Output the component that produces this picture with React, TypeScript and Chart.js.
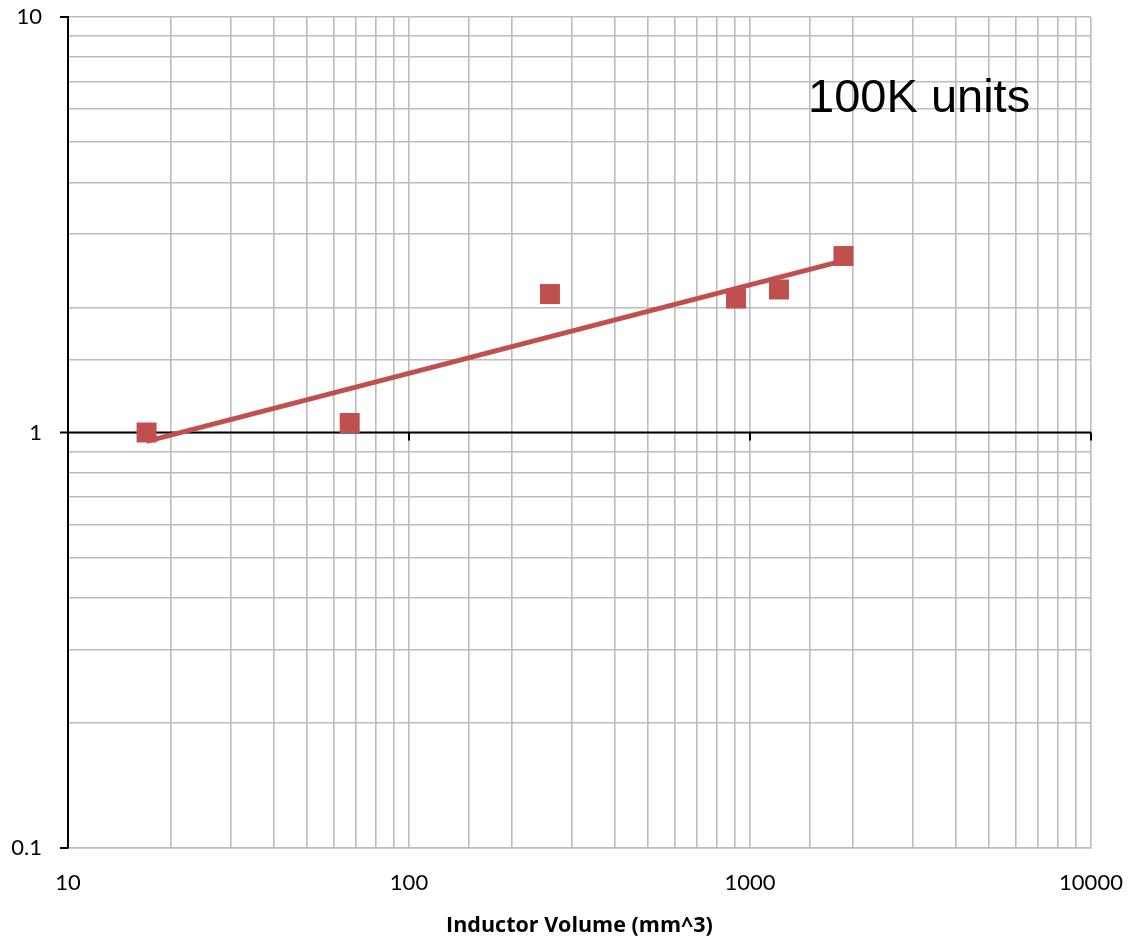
import { useEffect, useRef } from "react";
import { Chart, registerables } from "chart.js";

Chart.register(...registerables);

// Inductor volume (mm^3) and the matching relative value at 100K units
const volumes = [17, 67, 259, 910, 1216, 1880];
const relativeValues = [1.0, 1.054, 2.154, 2.101, 2.209, 2.659];

// Labelled decades on each axis
const xTickLabels = [10, 100, 1000, 10000];
const yTickLabels = [0.1, 1, 10];

const annotationText = "100K units";
const annotationAt = { x: 1480, y: 5.9 };
const xAxisTitle = "Inductor Volume (mm^3)";

const SERIES_COLOR = "#C0504D";
const GRID_COLOR = "#BCBCBC";
const LABEL_FONT = "Lato, 'Liberation Sans', sans-serif";

// Least-squares power fit y = a * x^b, done in log-log space
function powerFit(xs: number[], ys: number[]) {
  const lx = xs.map((v) => Math.log10(v));
  const ly = ys.map((v) => Math.log10(v));
  const n = lx.length;
  const mx = lx.reduce((s, v) => s + v, 0) / n;
  const my = ly.reduce((s, v) => s + v, 0) / n;
  let sxy = 0;
  let sxx = 0;
  for (let i = 0; i < n; i++) {
    sxy += (lx[i] - mx) * (ly[i] - my);
    sxx += (lx[i] - mx) * (lx[i] - mx);
  }
  const b = sxy / sxx;
  const logA = my - b * mx;
  return (x: number) => Math.pow(10, logA + b * Math.log10(x));
}

function labelFor(value: number, labels: number[]) {
  const hit = labels.find(
    (t) => Math.abs(Math.log10(t) - Math.log10(value)) < 1e-6
  );
  return hit !== undefined ? String(hit) : "";
}

// Draws the black reference line at y = 1, the axis tick marks and the note text
const axisMarks = {
  id: "axisMarks",
  beforeDatasetsDraw(chart: any) {
    const { ctx, chartArea, scales } = chart;
    const xs = scales.x;
    const ys = scales.y;
    const y1 = ys.getPixelForValue(1);
    ctx.save();
    ctx.strokeStyle = "#000";
    ctx.lineWidth = 2;
    ctx.beginPath();
    ctx.moveTo(chartArea.left, y1);
    ctx.lineTo(chartArea.right, y1);
    ctx.stroke();

    ctx.beginPath();
    for (const v of yTickLabels) {
      const py = ys.getPixelForValue(v);
      ctx.moveTo(chartArea.left - 8, py);
      ctx.lineTo(chartArea.left, py);
    }
    for (const v of xTickLabels.slice(1)) {
      const px = xs.getPixelForValue(v);
      ctx.moveTo(px, y1);
      ctx.lineTo(px, y1 + 8);
    }
    ctx.stroke();

    ctx.fillStyle = "#000";
    ctx.font = "47px 'Liberation Sans', Arial, sans-serif";
    ctx.textAlign = "left";
    ctx.textBaseline = "alphabetic";
    ctx.fillText(
      annotationText,
      xs.getPixelForValue(annotationAt.x),
      ys.getPixelForValue(annotationAt.y)
    );
    ctx.restore();
  },
};

export default function App() {
  const canvasRef = useRef<HTMLCanvasElement | null>(null);

  useEffect(() => {
    const canvas = canvasRef.current;
    if (!canvas) return;
    const fit = powerFit(volumes, relativeValues);
    const xMin = Math.min(...volumes);
    const xMax = Math.max(...volumes);

    const chart = new Chart(canvas, {
      type: "scatter",
      data: {
        datasets: [
          {
            label: "points",
            data: volumes.map((v, i) => ({ x: v, y: relativeValues[i] })),
            pointStyle: "rect",
            pointRadius: 14.14,
            pointBackgroundColor: SERIES_COLOR,
            pointBorderWidth: 0,
            borderWidth: 0,
            order: 1,
          },
          {
            label: "trend",
            data: [
              { x: xMin, y: fit(xMin) },
              { x: xMax, y: fit(xMax) },
            ],
            showLine: true,
            borderColor: SERIES_COLOR,
            borderWidth: 5,
            pointRadius: 0,
            order: 0,
          },
        ],
      },
      options: {
        responsive: false,
        animation: false,
        events: [],
        layout: { padding: { left: 0, right: 39, top: 17, bottom: 0 } },
        plugins: {
          legend: { display: false },
          tooltip: { enabled: false },
        },
        scales: {
          x: {
            type: "logarithmic",
            min: 10,
            max: 10000,
            grid: {
              color: GRID_COLOR,
              lineWidth: 1.6,
              drawTicks: false,
            },
            border: { color: GRID_COLOR, width: 1.6 },
            ticks: {
              autoSkip: false,
              maxRotation: 0,
              padding: 22,
              color: "#000",
              font: { family: LABEL_FONT, size: 22 },
              callback: (v: any) => labelFor(Number(v), xTickLabels),
            },
            title: {
              display: true,
              text: xAxisTitle,
              color: "#000",
              font: { family: "'Open Sans', sans-serif", size: 21.5, weight: "bold", lineHeight: 1 },
              padding: { top: 0, bottom: -1 },
            },
            afterFit: (scale: any) => {
              scale.height = 88;
              scale.paddingLeft = 0;
              scale.paddingRight = 0;
            },
          },
          y: {
            type: "logarithmic",
            min: 0.1,
            max: 10,
            grid: {
              color: GRID_COLOR,
              lineWidth: 1.6,
              drawTicks: false,
            },
            border: { color: "#000", width: 2 },
            ticks: {
              autoSkip: false,
              padding: 26,
              color: "#000",
              font: { family: LABEL_FONT, size: 22 },
              callback: (v: any) => labelFor(Number(v), yTickLabels),
            },
            afterFit: (scale: any) => {
              scale.width = 68;
              scale.paddingTop = 0;
              scale.paddingBottom = 0;
            },
          },
        },
      },
      plugins: [axisMarks],
    });
    return () => chart.destroy();
  }, []);

  return (
    <div style={{ position: "absolute", left: 0, top: 0, width: 1130, height: 936, background: "#fff" }}>
      <canvas ref={canvasRef} width={1130} height={936} style={{ display: "block" }} />
    </div>
  );
}
